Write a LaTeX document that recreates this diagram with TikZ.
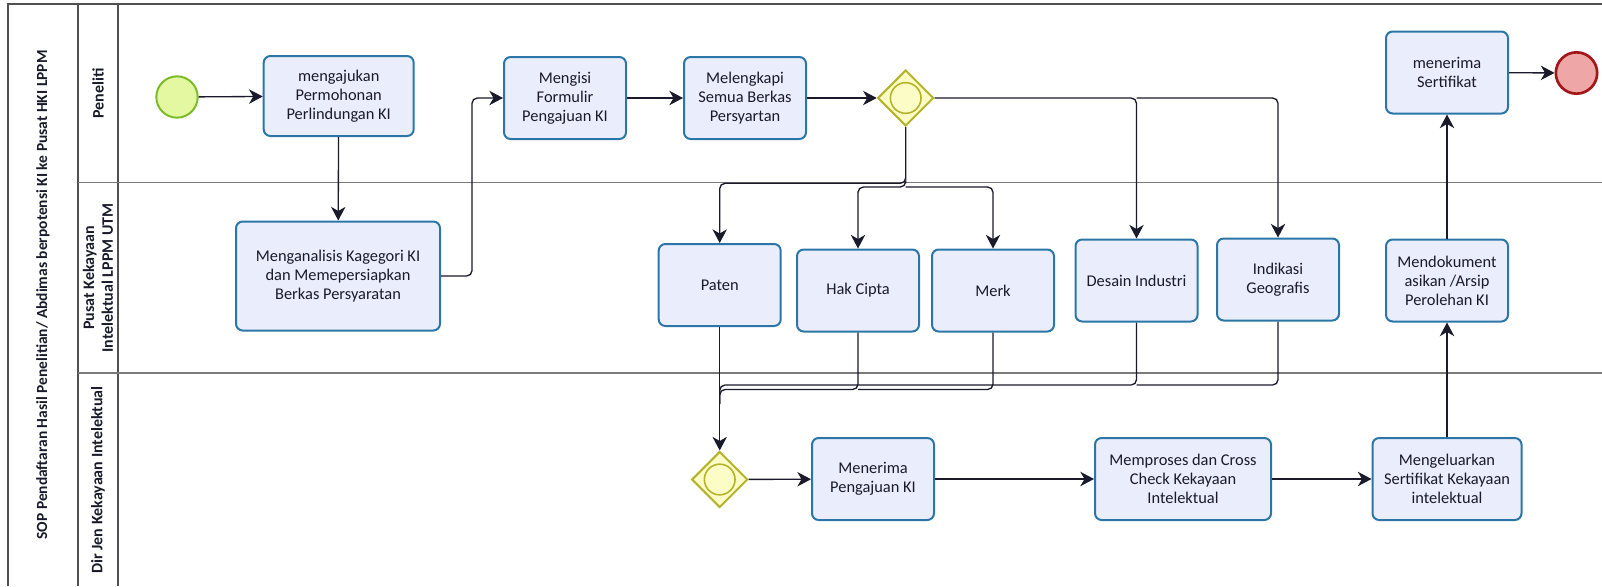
\documentclass[tikz,border=0pt]{standalone}
\usepackage{fontspec}
\setmainfont{Carlito}
\usepackage{tikz}
\usepackage{xcolor}
\usetikzlibrary{arrows.meta,positioning,shapes,calc}
\definecolor{ink}{HTML}{1A1A2A}
\definecolor{framegray}{HTML}{505050}
\definecolor{lanegray}{HTML}{7A7A7A}
\definecolor{taskfill}{HTML}{E9EDFC}
\definecolor{taskline}{HTML}{2B76A6}
\definecolor{startfill}{HTML}{E4F8A2}
\definecolor{startline}{HTML}{7CBB2A}
\definecolor{endfill}{HTML}{EEA6A6}
\definecolor{endline}{HTML}{A3161A}
\definecolor{gatefill}{HTML}{FCFCC6}
\definecolor{gateline}{HTML}{B4B42C}
\tikzset{
  taskcard/.style={draw=taskline,fill=taskfill,line width=1.5pt,rounded corners=5pt,
                   align=center,inner sep=2pt,text=ink,
                   font=\fontsize{12.3}{14.2}\selectfont,
                   minimum width=91.5pt,minimum height=61.5pt},
  startev/.style={circle,draw=startline,fill=startfill,line width=1.5pt,
                  minimum size=31pt,inner sep=0pt},
  endev/.style={circle,draw=endline,fill=endfill,line width=2pt,
                minimum size=31pt,inner sep=0pt},
  gatecard/.style={diamond,draw=gateline,fill=gatefill,line width=1.5pt,
                   minimum width=42pt,minimum height=42pt,inner sep=0pt},
  gatering/.style={circle,draw=gateline,line width=1.2pt,
                   minimum size=23pt,inner sep=0pt},
  flowarr/.style={-{Stealth[length=3.6mm,width=3.8mm,inset=1.1mm]},line width=1pt,
                  draw=ink,rounded corners=4pt},
  flowline/.style={line width=1pt,draw=ink,rounded corners=4pt},
  framerule/.style={draw=framegray,line width=0.9pt},
  lanerule/.style={draw=lanegray,line width=0.8pt},
  lanetitle/.style={rotate=90,align=center,text=ink,
                    font=\bfseries\fontsize{12}{14}\selectfont}
}

\begin{document}
\begin{tikzpicture}[x=0.75pt,y=-0.75pt]
    \path[use as bounding box] (0,0) rectangle (1602,586);
    % pool and lanes
    \draw[framerule] (8,586) -- (8,4) -- (1602,4);
    \draw[framerule] (78,4) -- (78,586);
    \draw[framerule] (118,4) -- (118,586);
    \draw[lanerule] (78,182.7) -- (1602,182.7);
    \draw[lanerule] (78,373) -- (1602,373);
    \node[lanetitle,font=\bfseries\fontsize{11.6}{14}\selectfont] (pool) at (43,295)
      {SOP Pendaftaran Hasil Penelitian/ Abdimas berpotensi KI ke Pusat HKI LPPM};
    \node[lanetitle] (laneA) at (98,93.5) {Peneliti};
    \node[lanetitle] (laneB) at (98,278) {Pusat Kekayaan\\Intelektual LPPM UTM};
    \node[lanetitle] (laneC) at (98,480) {Dir Jen Kekayaan Intelektual};
    % events and gateways
    \node[startev] (start) at (177,97) {};
    \node[endev] (stop) at (1576.5,73) {};
    \node[gatecard] (gw1) at (905.7,98) {};
    \node[gatering] (gw1c) at (905.7,98) {};
    \node[gatecard] (gw2) at (719.7,479.5) {};
    \node[gatering] (gw2c) at (719.7,479.5) {};
    % tasks
    \node[taskcard,minimum width=112.5pt,minimum height=60pt] (ajukan) at (338.7,96)
      {mengajukan\\Permohonan\\Perlindungan KI};
    \node[taskcard,minimum width=153pt,minimum height=81.75pt] (analisis) at (338,276)
      {Menganalisis Kagegori KI\\dan Memepersiapkan\\Berkas Persyaratan};
    \node[taskcard] (isi) at (565,98) {Mengisi\\Formulir\\Pengajuan KI};
    \node[taskcard] (lengkapi) at (745,98) {Melengkapi\\Semua Berkas\\Persyartan};
    \node[taskcard] (terima) at (1447,72.5) {menerima\\Sertifikat};
    \node[taskcard] (paten) at (719.7,285) {Paten};
    \node[taskcard] (hak) at (858,290.5) {Hak Cipta};
    \node[taskcard] (merk) at (993,290.5) {Merk};
    \node[taskcard] (desain) at (1136.5,280.5) {Desain Industri};
    \node[taskcard] (indikasi) at (1278,279.5) {Indikasi\\Geografis};
    \node[taskcard] (arsip) at (1447,280.5) {Mendokument\\asikan /Arsip\\Perolehan KI};
    \node[taskcard] (masuk) at (873,479) {Menerima\\Pengajuan KI};
    \node[taskcard,minimum width=132pt] (proses) at (1183,479)
      {Memproses dan Cross\\Check Kekayaan\\Intelektual};
    \node[taskcard,minimum width=111.75pt] (keluar) at (1447,479)
      {Mengeluarkan\\Sertifikat Kekayaan\\intelektual};
    % helper points for the branches
    \coordinate (splitP) at (0,183.3);
    \coordinate (splitH) at (0,187);
    \coordinate (mergeL) at (0,385);
    \coordinate (mergeH) at (0,389.5);
    \coordinate (mergeJ) at (719.7,404);
    % sequence flows
    \draw[flowarr] (start) -- (ajukan);
    \draw[flowarr] (ajukan) -- (analisis);
    \draw[flowarr] (analisis.east) -- ++(31,0) |- (isi.west);
    \draw[flowarr] (isi) -- (lengkapi);
    \draw[flowarr] (lengkapi) -- (gw1);
    \draw[flowarr] (gw1.east) -- (desain.north |- gw1.east) -- (desain.north);
    \draw[flowarr] (desain.north |- gw1.east) -- (indikasi.north |- gw1.east) -- (indikasi.north);
    \draw[flowarr] (gw1.south) -- (gw1.south |- splitP) -- (paten.north |- splitP) -- (paten.north);
    \draw[flowarr] (gw1.south |- splitP) -- (gw1.south |- splitH) -- (hak.north |- splitH) -- (hak.north);
    \draw[flowarr] (gw1.south |- splitH) -- (merk.north |- splitH) -- (merk.north);
    \draw[flowarr] (paten.south) -- (gw2.north);
    \draw[flowline] (hak.south) -- (hak.south |- mergeH) -- (paten.south |- mergeH) -- (mergeJ);
    \draw[flowline] (merk.south) -- (merk.south |- mergeH) -- (hak.south |- mergeH);
    \draw[flowline] (desain.south) -- (desain.south |- mergeL) -- (paten.south |- mergeL) -- (mergeJ);
    \draw[flowline] (indikasi.south) -- (indikasi.south |- mergeL) -- (desain.south |- mergeL);
    \draw[flowarr] (gw2) -- (masuk);
    \draw[flowarr] (masuk) -- (proses);
    \draw[flowarr] (proses) -- (keluar);
    \draw[flowarr] (keluar) -- (arsip);
    \draw[flowarr] (arsip) -- (terima);
    \draw[flowarr] (terima) -- (stop);
  \end{tikzpicture}
\end{document}
